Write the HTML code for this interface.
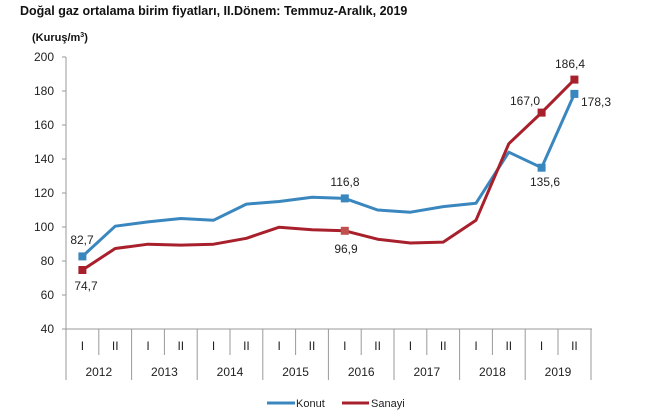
<!DOCTYPE html><html><head><style>body{margin:0;background:#fff}svg{display:block}text{font-family:"Liberation Sans",sans-serif}</style></head><body>
<svg width="663" height="420" xmlns="http://www.w3.org/2000/svg">
<text x="20" y="15" font-size="12.5" font-weight="bold" fill="#111">Doğal gaz ortalama birim fiyatları, II.Dönem: Temmuz-Aralık, 2019</text>
<text x="32" y="41" font-size="11" font-weight="bold" fill="#111">(Kuruş/m<tspan font-size="7" dy="-4">3</tspan><tspan dy="4">)</tspan></text>
<g font-size="12" fill="#222" text-anchor="end">
<text x="54" y="61">200</text><text x="54" y="95">180</text><text x="54" y="129">160</text><text x="54" y="163">140</text><text x="54" y="197">120</text><text x="54" y="231">100</text><text x="54" y="265">80</text><text x="54" y="299">60</text><text x="54" y="333">40</text>
</g>
<g stroke="#999" stroke-width="1">
<line x1="66" y1="57" x2="66" y2="380"/><line x1="62" y1="57" x2="66" y2="57"/><line x1="62" y1="91" x2="66" y2="91"/><line x1="62" y1="125" x2="66" y2="125"/><line x1="62" y1="159" x2="66" y2="159"/><line x1="62" y1="193" x2="66" y2="193"/><line x1="62" y1="227" x2="66" y2="227"/><line x1="62" y1="261" x2="66" y2="261"/><line x1="62" y1="295" x2="66" y2="295"/>
<line x1="62" y1="329" x2="592" y2="329"/>
<line x1="98.8" y1="329" x2="98.8" y2="355"/><line x1="164.4" y1="329" x2="164.4" y2="355"/><line x1="230" y1="329" x2="230" y2="355"/><line x1="295.6" y1="329" x2="295.6" y2="355"/><line x1="361.2" y1="329" x2="361.2" y2="355"/><line x1="426.8" y1="329" x2="426.8" y2="355"/><line x1="492.4" y1="329" x2="492.4" y2="355"/><line x1="558" y1="329" x2="558" y2="355"/>
<line x1="131.6" y1="329" x2="131.6" y2="380"/><line x1="197.2" y1="329" x2="197.2" y2="380"/><line x1="262.8" y1="329" x2="262.8" y2="380"/><line x1="328.4" y1="329" x2="328.4" y2="380"/><line x1="394" y1="329" x2="394" y2="380"/><line x1="459.6" y1="329" x2="459.6" y2="380"/><line x1="525.2" y1="329" x2="525.2" y2="380"/><line x1="591" y1="329" x2="591" y2="380"/>
</g>
<g font-size="12" fill="#222" text-anchor="middle">
<text x="82.4" y="350">I</text><text x="115.2" y="350">II</text><text x="148" y="350">I</text><text x="180.8" y="350">II</text><text x="213.6" y="350">I</text><text x="246.4" y="350">II</text><text x="279.2" y="350">I</text><text x="312" y="350">II</text><text x="344.8" y="350">I</text><text x="377.6" y="350">II</text><text x="410.4" y="350">I</text><text x="443.2" y="350">II</text><text x="476" y="350">I</text><text x="508.8" y="350">II</text><text x="541.6" y="350">I</text><text x="574.4" y="350">II</text>
<text x="98.8" y="376">2012</text><text x="164.4" y="376">2013</text><text x="230" y="376">2014</text><text x="295.6" y="376">2015</text><text x="361.2" y="376">2016</text><text x="426.8" y="376">2017</text><text x="492.4" y="376">2018</text><text x="558" y="376">2019</text>
</g>
<polyline fill="none" stroke="#3a87bf" stroke-width="3" stroke-linejoin="round" points="82.4,256.4 115.2,226.2 148,221.9 180.8,218.5 213.6,220.2 246.4,204.1 279.2,201.5 312,197.3 344.8,198.4 377.6,210 410.4,212.2 443.2,206.6 476,203.2 508.8,152.2 541.6,167.7 574.4,93.9"/>
<polyline fill="none" stroke="#a8202b" stroke-width="3" stroke-linejoin="round" points="82.4,269.99 115.2,248.5 148,244.2 180.8,245.1 213.6,244.2 246.4,238.3 279.2,227.2 312,229.8 344.8,230.8 377.6,239.2 410.4,243 443.2,242.1 476,220.2 508.8,143.7 541.6,112.6 574.4,79.6"/>
<g fill="#3a87bf"><rect x="78.4" y="252.4" width="8" height="8"/><rect x="340.8" y="194.4" width="8" height="8"/><rect x="537.6" y="163.7" width="8" height="8"/><rect x="570.4" y="89.9" width="8" height="8"/></g>
<g fill="#a8202b"><rect x="78.4" y="266" width="8" height="8"/><rect x="340.8" y="226.8" width="8" height="8" fill="#c0504d"/><rect x="537.6" y="108.6" width="8" height="8"/><rect x="570.4" y="75.6" width="8" height="8"/></g>
<g font-size="12" fill="#222" text-anchor="middle">
<text x="82" y="244">82,7</text><text x="86" y="290">74,7</text><text x="345" y="186">116,8</text><text x="346" y="253">96,9</text><text x="525" y="105">167,0</text><text x="570" y="68">186,4</text><text x="545" y="186">135,6</text><text x="596" y="106">178,3</text>
</g>
<line x1="267" y1="403" x2="295" y2="403" stroke="#3a87bf" stroke-width="3"/><text x="296" y="407" font-size="11" fill="#222">Konut</text>
<line x1="342" y1="403" x2="369" y2="403" stroke="#a8202b" stroke-width="3"/><text x="371" y="407" font-size="11" fill="#222">Sanayi</text>
</svg></body></html>
